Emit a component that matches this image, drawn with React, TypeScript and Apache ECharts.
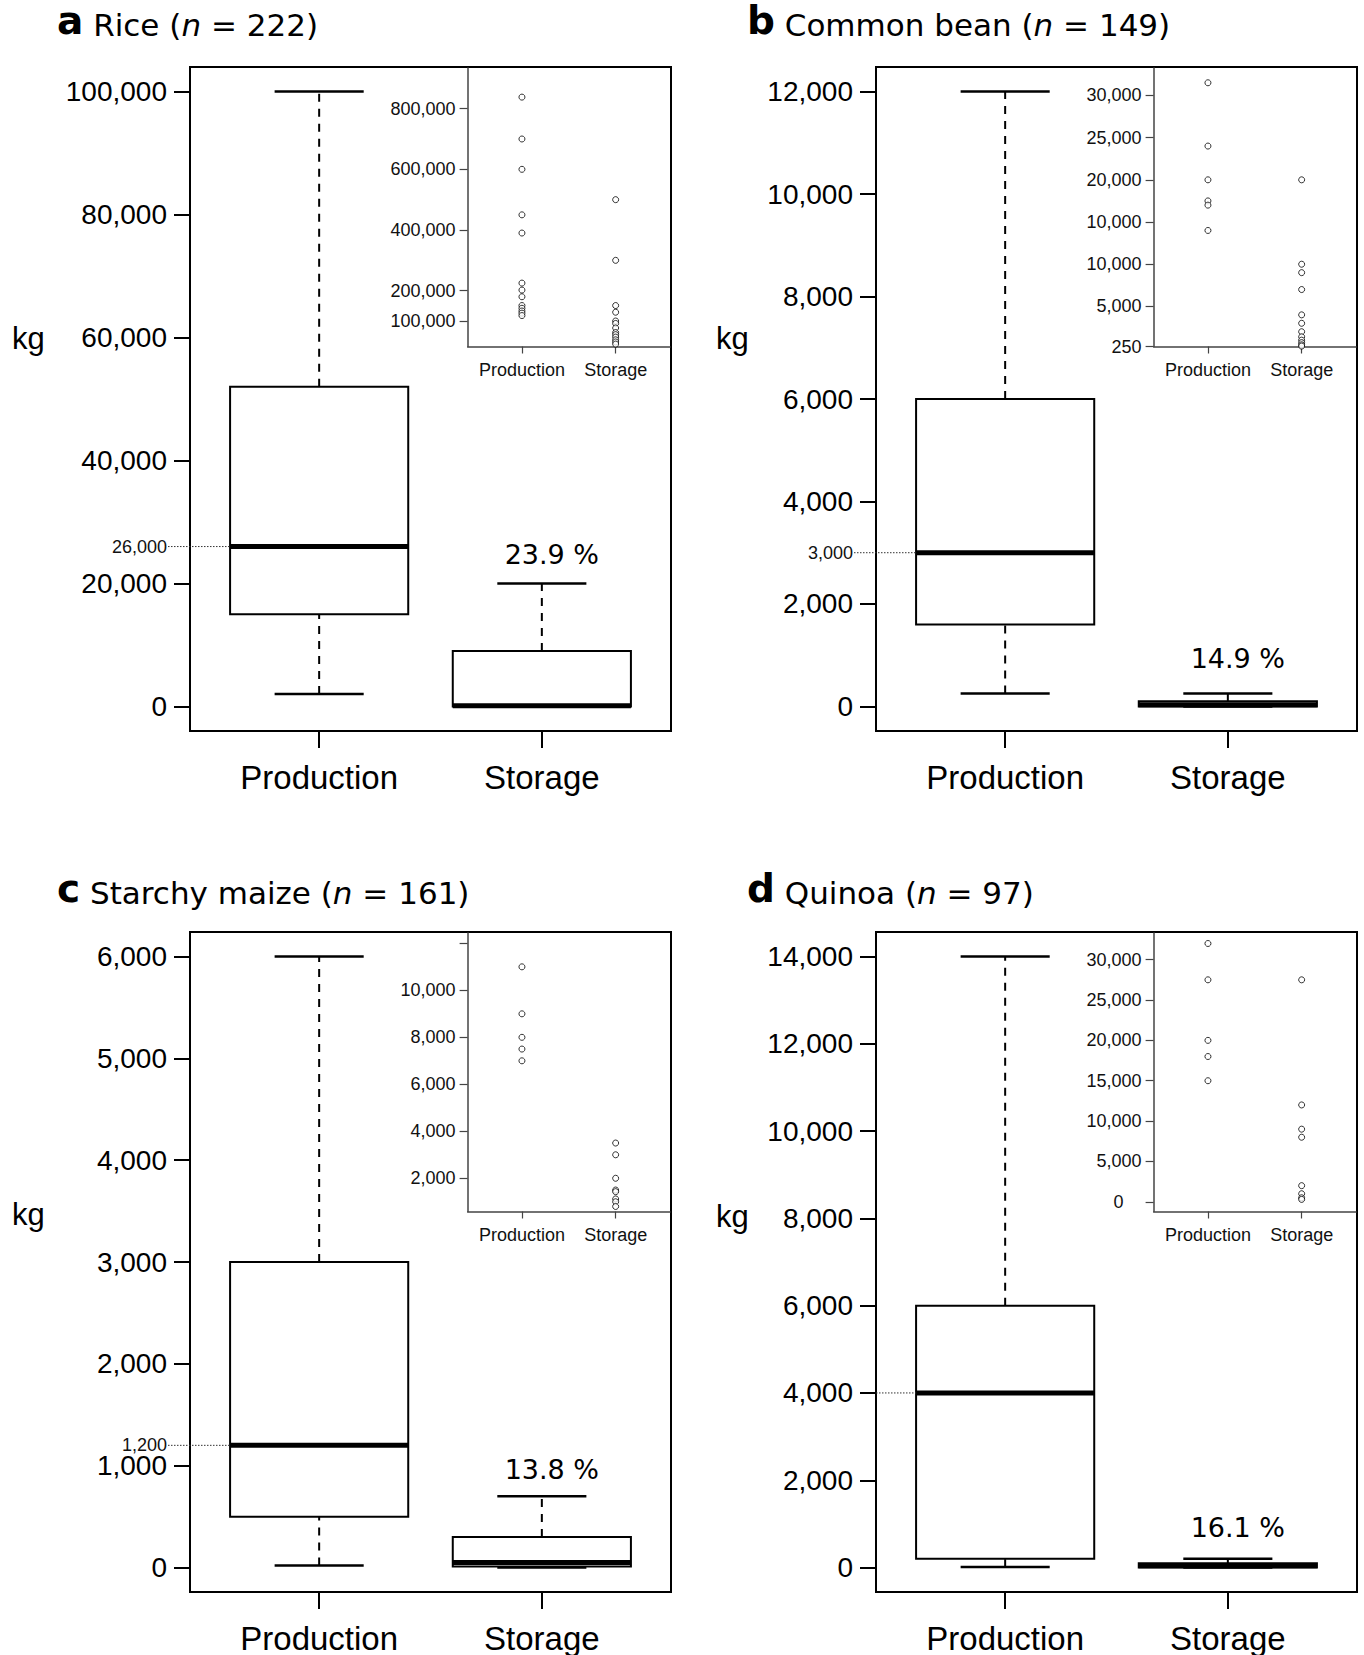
import React, { useEffect, useRef } from 'react';
import * as echarts from 'echarts';

const categories = ['Production', 'Storage'];

// five-number summaries: [lower whisker, Q1, median, Q3, upper whisker]
const riceProduction = [2000, 15000, 26000, 52000, 100000];
const riceStorage = [0, 0, 100, 9000, 20000];
const beanProduction = [250, 1600, 3000, 6000, 12000];
const beanStorage = [0, 0, 30, 100, 250];
const maizeProduction = [20, 500, 1200, 3000, 6000];
const maizeStorage = [0, 10, 50, 300, 700];
const quinoaProduction = [10, 200, 4000, 6000, 14000];
const quinoaStorage = [0, 0, 40, 100, 200];

const storagePercent = ['23.9 %', '14.9 %', '13.8 %', '16.1 %'];
const medianLabels = ['26,000', '3,000', '1,200', ''];
const panelLetters = ['a', 'b', 'c', 'd'];
const panelCrops = ['Rice', 'Common bean', 'Starchy maize', 'Quinoa'];
const panelN = ['222', '149', '161', '97'];

const riceTicks = [0, 20000, 40000, 60000, 80000, 100000];
const beanTicks = [0, 2000, 4000, 6000, 8000, 10000, 12000];
const maizeTicks = [0, 1000, 2000, 3000, 4000, 5000, 6000];
const quinoaTicks = [0, 2000, 4000, 6000, 8000, 10000, 12000, 14000];

// inset outliers
const riceOutProduction = [838000, 700000, 600000, 450000, 390000, 225000, 202000, 180000, 151000, 142000, 133000, 126000, 118000];
const riceOutStorage = [500000, 300000, 151000, 129000, 100000, 92000, 77000, 62000, 55000, 47000, 38000, 31000, 24000];
const riceInsetTicks = [100000, 200000, 400000, 600000, 800000];
const riceInsetLabels = ['100,000', '200,000', '400,000', '600,000', '800,000'];

const beanOutProduction = [31500, 24000, 20000, 17500, 17000, 14000];
const beanOutStorage = [20000, 10000, 9000, 7000, 4000, 3000, 2000, 1400, 1000, 700, 450, 300];
const beanInsetTicks = [250, 5000, 10000, 15000, 20000, 25000, 30000];
const beanInsetLabels = ['250', '5,000', '10,000', '10,000', '20,000', '25,000', '30,000'];

const maizeOutProduction = [11000, 9000, 8000, 7500, 7000];
const maizeOutStorage = [3500, 3000, 2000, 1500, 1430, 1120, 1000, 800];
const maizeInsetTicks = [2000, 4000, 6000, 8000, 10000, 12000];
const maizeInsetLabels = ['2,000', '4,000', '6,000', '8,000', '10,000', ''];

const quinoaOutProduction = [32000, 27500, 20000, 18000, 15000];
const quinoaOutStorage = [27500, 12000, 9000, 8000, 2000, 1000, 500, 300];
const quinoaInsetTicks = [0, 5000, 10000, 15000, 20000, 25000, 30000];
const quinoaInsetLabels = ['{z|0}', '5,000', '10,000', '15,000', '20,000', '25,000', '30,000'];

const SANS = '"Liberation Sans", Arial, sans-serif';
const VERD = '"DejaVu Sans", Verdana, sans-serif';

const comma = (v: number) => String(v).replace(/\B(?=(\d{3})+(?!\d))/g, ',');

const MAIN_W = 481;
const MAIN_H = 664;
const INSET_DX = 277.6;
const INSET_H = 279.5;

const panels = [
  { left: 190, top: 67, prod: riceProduction, stor: riceStorage, ticks: riceTicks, pctGap: 19, insetMin: 16000, insetMax: 934000, insetTicks: riceInsetTicks, insetLabels: riceInsetTicks, insetNames: riceInsetLabels, outProd: riceOutProduction, outStor: riceOutStorage, kgX: 12, kgY: 338, titleX: 57, titleY: 1 },
  { left: 876, top: 67, prod: beanProduction, stor: beanStorage, ticks: beanTicks, pctGap: 26, insetMin: 250, insetMax: 33250, insetTicks: beanInsetTicks, insetLabels: beanInsetTicks, insetNames: beanInsetLabels, outProd: beanOutProduction, outStor: beanOutStorage, kgX: 716, kgY: 338, titleX: 747, titleY: 1 },
  { left: 190, top: 932, prod: maizeProduction, stor: maizeStorage, ticks: maizeTicks, pctGap: 17, insetMin: 586, insetMax: 12440, insetTicks: maizeInsetTicks, insetLabels: maizeInsetTicks, insetNames: maizeInsetLabels, outProd: maizeOutProduction, outStor: maizeOutStorage, kgX: 12, kgY: 1214, titleX: 57, titleY: 869 },
  { left: 876, top: 932, prod: quinoaProduction, stor: quinoaStorage, ticks: quinoaTicks, pctGap: 22, insetMin: -1200, insetMax: 33300, insetTicks: quinoaInsetTicks, insetLabels: quinoaInsetTicks, insetNames: quinoaInsetLabels, outProd: quinoaOutProduction, outStor: quinoaOutStorage, kgX: 716, kgY: 1216, titleX: 747, titleY: 869 },
];

function buildOption() {
  const grid: any[] = [];
  const xAxis: any[] = [];
  const yAxis: any[] = [];
  const series: any[] = [];
  const title: any[] = [];
  const graphic: any[] = [];

  panels.forEach((p, i) => {
    const gi = i * 2;
    const gj = i * 2 + 1;
    const top = p.ticks[p.ticks.length - 1];
    grid.push({ left: p.left, top: p.top, width: MAIN_W, height: MAIN_H, show: true, borderColor: '#000', borderWidth: 2, backgroundColor: 'transparent' });
    grid.push({ left: p.left + INSET_DX, top: p.top + 1, width: MAIN_W - INSET_DX - 1, height: INSET_H - 1, show: false });

    xAxis.push({
      gridIndex: gi, type: 'value', min: 0.42, max: 2.58,
      axisLine: { show: true, onZero: false, lineStyle: { color: '#000', width: 2 } },
      axisTick: { show: true, customValues: [1, 2], length: 17, lineStyle: { color: '#000', width: 2 } },
      axisLabel: { customValues: [1, 2], formatter: (v: number) => categories[Math.round(v) - 1], fontSize: 33, fontFamily: SANS, color: '#000', margin: 30 },
      splitLine: { show: false },
    });
    yAxis.push({
      gridIndex: gi, type: 'value', min: -0.04 * top, max: 1.04 * top,
      axisLine: { show: true, onZero: false, lineStyle: { color: '#000', width: 2 } },
      axisTick: { show: true, customValues: p.ticks, length: 16, lineStyle: { color: '#000', width: 2 } },
      axisLabel: { customValues: p.ticks, formatter: (v: number) => comma(v), fontSize: 28, fontFamily: SANS, color: '#000', margin: 23 },
      splitLine: { show: false },
    });
    xAxis.push({
      gridIndex: gj, type: 'value', min: 0.42, max: 2.58,
      axisLine: { show: true, onZero: false, lineStyle: { color: '#444', width: 1.5 } },
      axisTick: { show: true, customValues: [1, 2], length: 7, lineStyle: { color: '#444', width: 1.2 } },
      axisLabel: { customValues: [1, 2], formatter: (v: number) => categories[Math.round(v) - 1], fontSize: 18, fontFamily: SANS, color: '#111', margin: 14 },
      splitLine: { show: false },
    });
    yAxis.push({
      gridIndex: gj, type: 'value', min: p.insetMin, max: p.insetMax,
      axisLine: { show: true, onZero: false, lineStyle: { color: '#444', width: 1.5 } },
      axisTick: { show: true, customValues: p.insetTicks, length: 8, lineStyle: { color: '#444', width: 1.2 } },
      axisLabel: {
        customValues: p.insetLabels, formatter: (v: number) => p.insetNames[p.insetLabels.indexOf(v)] ?? '',
        fontSize: 18, fontFamily: SANS, color: '#111', margin: 12,
        rich: { z: { fontSize: 18, fontFamily: SANS, color: '#111', padding: [0, 18, 0, 0] } },
      },
      splitLine: { show: false },
    });

    const medLabel = medianLabels[i];
    const pct = storagePercent[i];
    const pctGap = p.pctGap;
    series.push({
      type: 'custom', xAxisIndex: gi, yAxisIndex: gi, z: 5, silent: true,
      data: [[1, ...p.prod], [2, ...p.stor]],
      renderItem: (params: any, api: any) => {
        const x = api.value(0);
        const lo = api.value(1), q1 = api.value(2), md = api.value(3), q3 = api.value(4), hi = api.value(5);
        const cx = api.coord([x, lo])[0];
        const yLo = api.coord([x, lo])[1];
        const yQ1 = api.coord([x, q1])[1];
        const yMd = api.coord([x, md])[1];
        const yQ3 = api.coord([x, q3])[1];
        const yHi = api.coord([x, hi])[1];
        const boxW = api.size([0.8, 0])[0];
        const capW = api.size([0.4, 0])[0];
        const dash = { stroke: '#000', lineWidth: 2, lineDash: [8, 7] };
        const solid = { stroke: '#000', lineWidth: 2.5 };
        const children: any[] = [
          { type: 'line', shape: { x1: cx, y1: yQ3, x2: cx, y2: yHi }, style: dash },
          { type: 'line', shape: { x1: cx, y1: yLo, x2: cx, y2: yQ1 }, style: dash },
          { type: 'line', shape: { x1: cx - capW / 2, y1: yHi, x2: cx + capW / 2, y2: yHi }, style: solid },
          { type: 'line', shape: { x1: cx - capW / 2, y1: yLo, x2: cx + capW / 2, y2: yLo }, style: solid },
          { type: 'rect', shape: { x: cx - boxW / 2, y: yQ3, width: boxW, height: yQ1 - yQ3 }, style: { fill: '#fff', stroke: '#000', lineWidth: 2 } },
          { type: 'line', shape: { x1: cx - boxW / 2, y1: yMd, x2: cx + boxW / 2, y2: yMd }, style: { stroke: '#000', lineWidth: 5 } },
        ];
        if (x === 1) {
          const startX = params.coordSys.x - (medLabel ? 22 : 0);
          children.push({ type: 'line', shape: { x1: startX, y1: yMd, x2: cx - boxW / 2, y2: yMd }, style: { stroke: '#333', lineWidth: 1, lineDash: [1.5, 1.5] } });
          if (medLabel) {
            children.push({ type: 'text', style: { text: medLabel, x: params.coordSys.x - 23, y: yMd, align: 'right', verticalAlign: 'middle', textAlign: 'right', textVerticalAlign: 'middle', fontSize: 18, fontFamily: SANS, fill: '#111' } });
          }
        } else {
          children.push({ type: 'text', style: { text: pct, x: cx + 10, y: yHi - pctGap + 4, align: 'center', verticalAlign: 'bottom', textAlign: 'center', textVerticalAlign: 'bottom', fontSize: 27, fontFamily: VERD, fill: '#000' } });
        }
        return { type: 'group', children };
      },
    });
    series.push({
      type: 'scatter', xAxisIndex: gj, yAxisIndex: gj, silent: true, z: 6,
      symbol: 'circle', symbolSize: 6,
      itemStyle: { color: '#fff', borderColor: '#000', borderWidth: 1 },
      data: p.outProd.map((v) => [1, v]).concat(p.outStor.map((v) => [2, v])),
    });

    title.push({
      left: p.titleX, top: p.titleY, padding: 0,
      text: `{b|${panelLetters[i]}}{t| ${panelCrops[i]} (}{i|n}{t| = ${panelN[i]})}`,
      textStyle: {
        fontWeight: 'normal',
        rich: {
          b: { fontFamily: VERD, fontWeight: 'bold', fontSize: 39, color: '#000', verticalAlign: 'bottom' },
          t: { fontFamily: VERD, fontWeight: 'normal', fontSize: 31, color: '#000', verticalAlign: 'bottom' },
          i: { fontFamily: VERD, fontWeight: 'normal', fontStyle: 'italic', fontSize: 31, color: '#000', verticalAlign: 'bottom' },
        },
      },
    });
    graphic.push({
      type: 'text', x: p.kgX, y: p.kgY,
      style: { text: 'kg', fontSize: 31, fontFamily: SANS, fill: '#000', align: 'left', verticalAlign: 'middle', textAlign: 'left', textVerticalAlign: 'middle' },
    });
  });

  return { animation: false, backgroundColor: '#fff', grid, xAxis, yAxis, series, title, graphic };
}

export default function App() {
  const ref = useRef<HTMLDivElement>(null);
  useEffect(() => {
    if (!ref.current) return;
    const chart = echarts.init(ref.current, undefined, { renderer: 'svg' });
    chart.setOption(buildOption() as any);
    return () => chart.dispose();
  }, []);
  return <div ref={ref} style={{ position: 'absolute', left: 0, top: 0, width: 1364, height: 1655 }} />;
}
